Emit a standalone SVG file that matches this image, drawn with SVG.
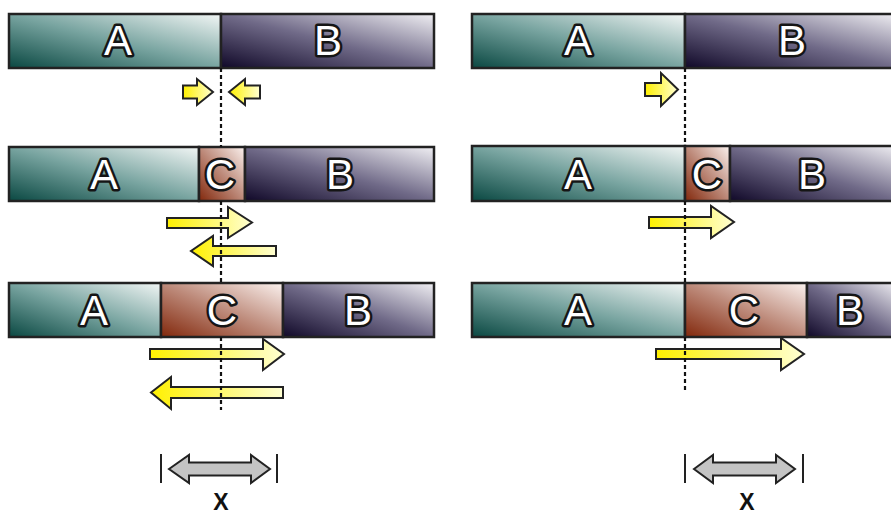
<svg xmlns="http://www.w3.org/2000/svg" width="891" height="515" viewBox="0 0 891 515">
  <defs>
    <linearGradient id="gA" x1="0" y1="1" x2="1" y2="0">
      <stop offset="0" stop-color="#0a4842"/>
      <stop offset="0.5" stop-color="#78a4a0"/>
      <stop offset="1" stop-color="#f2f6f5"/>
    </linearGradient>
    <linearGradient id="gB" x1="0" y1="1" x2="1" y2="0">
      <stop offset="0" stop-color="#100828"/>
      <stop offset="0.5" stop-color="#706a88"/>
      <stop offset="1" stop-color="#f0eff3"/>
    </linearGradient>
    <linearGradient id="gC" x1="0" y1="1" x2="1" y2="0">
      <stop offset="0" stop-color="#82280c"/>
      <stop offset="0.5" stop-color="#bd8a7a"/>
      <stop offset="1" stop-color="#fbf2ef"/>
    </linearGradient>
    <linearGradient id="gY" x1="0" y1="0" x2="1" y2="0">
      <stop offset="0" stop-color="#fff000"/>
      <stop offset="1" stop-color="#ffffd2"/>
    </linearGradient>
  </defs>
  <style>
    .seg { stroke: #222; stroke-width: 2.5; }
    .lbl { font-family: "Liberation Sans", Arial, sans-serif; font-size: 42px; fill: #fff; stroke: #151515; stroke-width: 5; paint-order: stroke; stroke-linejoin: round; text-anchor: middle; }
    .arr { fill: url(#gY); stroke: #222; stroke-width: 2; stroke-linejoin: miter; }
    .dim { fill: #c4c4c4; stroke: #222; stroke-width: 2; }
    .tick { stroke: #222; stroke-width: 2; }
    .guide { stroke: #111; stroke-width: 2.2; stroke-dasharray: 4 3; fill: none; }
    .x { font-family: "Liberation Sans", Arial, sans-serif; font-size: 23px; font-weight: bold; fill: #111; text-anchor: middle; }
  </style>

  <!-- left column: bars -->
  <g id="left-row1">
    <rect class="seg" x="9" y="14" width="212" height="54" fill="url(#gA)"/>
    <rect class="seg" x="221" y="14" width="213" height="54" fill="url(#gB)"/>
    <text class="lbl" x="118" y="55">A</text>
    <text class="lbl" x="328" y="55">B</text>
  </g>
  <g id="left-row2">
    <rect class="seg" x="9" y="147" width="190" height="54" fill="url(#gA)"/>
    <rect class="seg" x="199" y="147" width="46" height="54" fill="url(#gC)"/>
    <rect class="seg" x="245" y="147" width="189" height="54" fill="url(#gB)"/>
    <text class="lbl" x="104" y="189">A</text>
    <text class="lbl" x="220" y="189">C</text>
    <text class="lbl" x="340" y="189">B</text>
  </g>
  <g id="left-row3">
    <rect class="seg" x="9" y="283" width="152" height="54" fill="url(#gA)"/>
    <rect class="seg" x="161" y="283" width="122" height="54" fill="url(#gC)"/>
    <rect class="seg" x="283" y="283" width="151" height="54" fill="url(#gB)"/>
    <text class="lbl" x="94" y="325">A</text>
    <text class="lbl" x="222" y="325">C</text>
    <text class="lbl" x="358" y="325">B</text>
  </g>

  <!-- right column: bars (run off the right edge) -->
  <g id="right-row1">
    <rect class="seg" x="472" y="14" width="213" height="54" fill="url(#gA)"/>
    <rect class="seg" x="685" y="14" width="213" height="54" fill="url(#gB)"/>
    <text class="lbl" x="578" y="55">A</text>
    <text class="lbl" x="792" y="55">B</text>
  </g>
  <g id="right-row2">
    <rect class="seg" x="472" y="146" width="213" height="55" fill="url(#gA)"/>
    <rect class="seg" x="685" y="146" width="45" height="55" fill="url(#gC)"/>
    <rect class="seg" x="730" y="146" width="168" height="55" fill="url(#gB)"/>
    <text class="lbl" x="578" y="189">A</text>
    <text class="lbl" x="707" y="189">C</text>
    <text class="lbl" x="812" y="189">B</text>
  </g>
  <g id="right-row3">
    <rect class="seg" x="472" y="283" width="213" height="54" fill="url(#gA)"/>
    <rect class="seg" x="685" y="283" width="122" height="54" fill="url(#gC)"/>
    <rect class="seg" x="807" y="283" width="91" height="54" fill="url(#gB)"/>
    <text class="lbl" x="578" y="325">A</text>
    <text class="lbl" x="744" y="325">C</text>
    <text class="lbl" x="850" y="325">B</text>
  </g>

  <!-- connectors: block arrows, guide lines, dimension marks -->
  <g id="connectors">
    <!-- left column arrows -->
    <path class="arr" d="M183,85.5 H197 V79 L213,92 L197,105 V98.5 H183 Z"/>
    <path class="arr" d="M260,85.5 H245 V79 L229,92 L245,105 V98.5 H260 Z"/>
    <path class="arr" d="M167,218 H228 V207 L252,222.5 L228,238 V228 H167 Z"/>
    <path class="arr" d="M276,246 H213 V236 L191,251 L213,266 V256 H276 Z"/>
    <path class="arr" d="M150,349 H263 V339 L284,354 L263,370 V359 H150 Z"/>
    <path class="arr" d="M283,387 H171 V377 L151,392.5 L171,409 V398 H283 Z"/>
    <!-- right column arrows -->
    <path class="arr" d="M645,83 H661 V73 L678,89.5 L661,106 V96 H645 Z"/>
    <path class="arr" d="M649,217 H711 V206 L734,222 L711,238 V228 H649 Z"/>
    <path class="arr" d="M656,349 H781 V338 L804,354 L781,370 V359 H656 Z"/>

    <!-- dashed guides -->
    <path class="guide" d="M221,68 V147 M221,201 V283 M221,337 V410"/>
    <path class="guide" d="M685,68 V146 M685,201 V283 M685,337 V393"/>

    <!-- dimension marks -->
    <line class="tick" x1="161" y1="454" x2="161" y2="483"/>
    <line class="tick" x1="277" y1="454" x2="277" y2="483"/>
    <path class="dim" d="M169,469 L189,455 V462.5 H251 V455 L270,469 L251,483 V475.5 H189 V483 Z"/>
    <line class="tick" x1="685" y1="454" x2="685" y2="483"/>
    <line class="tick" x1="803" y1="454" x2="803" y2="483"/>
    <path class="dim" d="M694,469 L713,455 V462.5 H776 V455 L795,469 L776,483 V475.5 H713 V483 Z"/>
  </g>

  <text class="x" x="221" y="510">X</text>
  <text class="x" x="747" y="510">X</text>
</svg>
